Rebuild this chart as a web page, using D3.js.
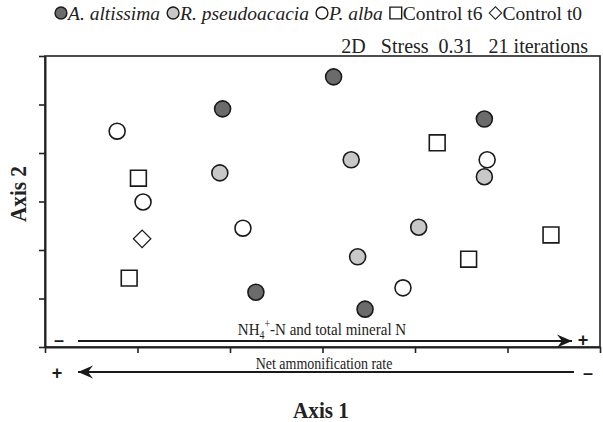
<!DOCTYPE html>
<html>
<head>
<meta charset="utf-8">
<script src="https://cdn.jsdelivr.net/npm/d3@7"></script>
<style>
  body { margin: 0; background: #fff; }
  svg { display: block; font-family: "Liberation Serif", "Times New Roman", serif; }
</style>
</head>
<body>
<svg id="chart" width="603" height="422"></svg>
<script>
// NMDS scores (axis units are arbitrary, ticks every 1)
var altissimaX = [1.92, 2.28, 3.12, 4.75, 3.46];
var altissimaY = [4.91, 1.13, 5.57, 4.70, 0.78];
var pseudoX = [1.89, 3.31, 4.75, 4.04, 3.38];
var pseudoY = [3.59, 3.86, 3.51, 2.47, 1.86];
var albaX = [0.78, 1.06, 2.14, 4.78, 3.87];
var albaY = [4.45, 2.99, 2.45, 3.86, 1.22];
var ctrl6X = [1.01, 0.91, 4.24, 5.47, 4.58];
var ctrl6Y = [3.48, 1.42, 4.21, 2.31, 1.81];
var ctrl0X = [1.05];
var ctrl0Y = [2.23];

var groups = ["A. altissima", "R. pseudoacacia", "P. alba", "Control t6", "Control t0"];
var tickVals = [0, 1, 2, 3, 4, 5, 6];

var svg = d3.select("#chart");
var x = d3.scaleLinear().domain([0, 6]).range([45, 600]);
var y = d3.scaleLinear().domain([0, 6]).range([347, 56]);

var fills = { "A. altissima": "#6b6b6b", "R. pseudoacacia": "#c8c8c8", "P. alba": "#fff", "Control t6": "#fff", "Control t0": "#fff" };
var shapes = { "A. altissima": "c", "R. pseudoacacia": "c", "P. alba": "c", "Control t6": "s", "Control t0": "d" };

function symPath(kind, scale) {
  if (kind == "c") return d3.symbol().type(d3.symbolCircle).size(201 * scale)();
  return d3.symbol().type(d3.symbolSquare).size(250 * scale)();
}

// frame
svg.append("rect").attr("x", x(0)).attr("y", y(6))
  .attr("width", x(6) - x(0)).attr("height", y(0) - y(6))
  .attr("fill", "none").attr("stroke", "#222").attr("stroke-width", 1.6);

svg.append("g").attr("transform", "translate(" + x(0) + ",0)")
  .call(d3.axisLeft(y).tickValues(tickVals).tickSize(6).tickSizeOuter(0).tickFormat(""));
svg.append("g").attr("transform", "translate(0," + y(0) + ")")
  .call(d3.axisBottom(x).tickValues(tickVals).tickSize(6).tickSizeOuter(0).tickFormat(""));
svg.selectAll(".domain").attr("stroke", "#222").attr("stroke-width", 2);
svg.selectAll(".tick line").attr("stroke", "#222").attr("stroke-width", 1.6);

// points
var pts = [];
function addGroup(name, xs, ys) {
  xs.forEach(function(v, i) { pts.push({ g: name, x: v, y: ys[i] }); });
}
addGroup("A. altissima", altissimaX, altissimaY);
addGroup("R. pseudoacacia", pseudoX, pseudoY);
addGroup("P. alba", albaX, albaY);
addGroup("Control t6", ctrl6X, ctrl6Y);
addGroup("Control t0", ctrl0X, ctrl0Y);

svg.append("g").selectAll("path").data(pts).join("path")
  .attr("d", function(d) { return symPath(shapes[d.g], 1); })
  .attr("transform", function(d) {
    return "translate(" + x(d.x) + "," + y(d.y) + ")" + (shapes[d.g] == "d" ? " rotate(45) scale(0.78)" : "");
  })
  .attr("fill", function(d) { return fills[d.g]; })
  .attr("stroke", "#1a1a1a").attr("stroke-width", 1.6);

// legend, laid out left to right
var lg = svg.append("g");
var cx = 61;
groups.forEach(function(g, i) {
  lg.append("path")
    .attr("d", symPath(shapes[g], 0.55))
    .attr("transform", "translate(" + cx + ",13)" + (shapes[g] == "d" ? " rotate(45) scale(0.75)" : ""))
    .attr("fill", fills[g]).attr("stroke", "#1a1a1a").attr("stroke-width", 1.4);
  var t = lg.append("text").attr("x", cx + 7).attr("y", 19.5)
    .attr("font-size", 19.5)
    .attr("font-style", i < 3 ? "italic" : "normal")
    .attr("fill", "#222")
    .text(g);
  cx = cx + 7 + t.node().getComputedTextLength() + 13;
});

svg.append("text").attr("x", 588).attr("y", 53).attr("text-anchor", "end")
  .attr("font-size", 20).attr("fill", "#222").attr("xml:space", "preserve")
  .text("2D   Stress  0.31   21 iterations");

// gradient arrows
var defs = svg.append("defs");
defs.append("marker").attr("id", "head").attr("viewBox", "-16 -8 18 16")
  .attr("refX", 0).attr("refY", 0).attr("markerWidth", 18).attr("markerHeight", 16)
  .attr("markerUnits", "userSpaceOnUse").attr("orient", "auto")
  .append("path").attr("d", "M0,0 L-15,-6.5 L-10,0 L-15,6.5 Z").attr("fill", "#1a1a1a");

svg.append("line").attr("x1", 78).attr("x2", 572).attr("y1", 341).attr("y2", 341)
  .attr("stroke", "#1a1a1a").attr("stroke-width", 2.2).attr("marker-end", "url(#head)");
svg.append("line").attr("x1", 574).attr("x2", 78).attr("y1", 372).attr("y2", 372)
  .attr("stroke", "#1a1a1a").attr("stroke-width", 2.2).attr("marker-end", "url(#head)");

var t1 = svg.append("text").attr("transform", "translate(322,335) scale(0.86,1)").attr("text-anchor", "middle")
  .attr("font-size", 17.5).attr("fill", "#222");
t1.append("tspan").text("NH");
t1.append("tspan").attr("font-size", 11.5).attr("dy", 4).text("4");
t1.append("tspan").attr("font-size", 11.5).attr("dy", -11).text("+");
t1.append("tspan").attr("dy", 7).text("-N and total mineral N");

svg.append("text").attr("transform", "translate(324,369) scale(0.8,1)").attr("text-anchor", "middle")
  .attr("font-size", 17.5).attr("fill", "#222").text("Net ammonification rate");

// signs
var signs = [["\u2013", 59, 346], ["+", 583, 346], ["+", 57, 379], ["\u2013", 588, 379]];
signs.forEach(function(s) {
  svg.append("text").attr("x", s[1]).attr("y", s[2]).attr("text-anchor", "middle")
    .attr("font-family", "Liberation Sans, Arial, sans-serif").attr("font-weight", "bold")
    .attr("font-size", 18).attr("fill", "#1a1a1a").text(s[0]);
});

// axis titles
svg.append("text").attr("transform", "translate(321,418) scale(0.92,1)").attr("text-anchor", "middle")
  .attr("font-size", 23).attr("font-weight", "bold").attr("fill", "#222").text("Axis 1");
svg.append("text").attr("transform", "translate(26,194) rotate(-90) scale(0.92,1)").attr("text-anchor", "middle")
  .attr("font-size", 23).attr("font-weight", "bold").attr("fill", "#222").text("Axis 2");
</script>
</body>
</html>
